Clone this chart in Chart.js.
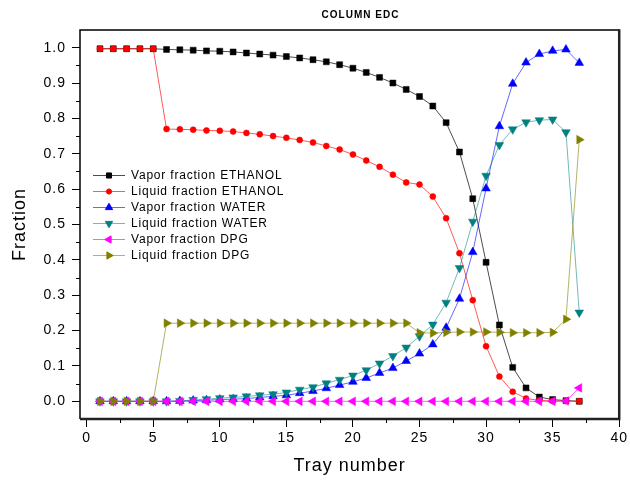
<!DOCTYPE html>
<html>
<head>
<meta charset="utf-8">
<title>Column EDC</title>
<script src="https://cdn.jsdelivr.net/npm/chart.js@4/dist/chart.umd.min.js"></script>
<style>
    html, body { margin: 0; padding: 0; background: #fff; }
    canvas { display: block; }
</style>
</head>
<body>
<canvas id="edcChart" width="630" height="484"></canvas>
<script>
// Tray numbers and tick labels
const trays = [1, 2, 3, 4, 5, 6, 7, 8, 9, 10, 11, 12, 13, 14, 15, 16, 17, 18, 19, 20,
    21, 22, 23, 24, 25, 26, 27, 28, 29, 30, 31, 32, 33, 34, 35, 36, 37];
const xTicks = [0, 5, 10, 15, 20, 25, 30, 35, 40];
const yTicks = [0.0, 0.1, 0.2, 0.3, 0.4, 0.5, 0.6, 0.7, 0.8, 0.9, 1.0];

// Fractions per tray
const vaporEthanol = [0.997, 0.997, 0.997, 0.997, 0.997, 0.995, 0.994, 0.993, 0.991, 0.990,
    0.988, 0.985, 0.982, 0.979, 0.975, 0.971, 0.966, 0.960, 0.952, 0.942,
    0.930, 0.916, 0.900, 0.882, 0.862, 0.835, 0.788, 0.705, 0.573, 0.393,
    0.216, 0.096, 0.038, 0.012, 0.005, 0.002, 0.000];
const liquidEthanol = [0.997, 0.997, 0.997, 0.997, 0.997, 0.770, 0.769, 0.768, 0.766, 0.765,
    0.763, 0.759, 0.755, 0.750, 0.745, 0.739, 0.732, 0.722, 0.712, 0.698,
    0.681, 0.663, 0.641, 0.619, 0.613, 0.579, 0.518, 0.419, 0.286, 0.156,
    0.070, 0.027, 0.008, 0.003, 0.001, 0.001, 0.000];
const vaporWater = [0.000, 0.000, 0.000, 0.000, 0.000, 0.000, 0.001, 0.002, 0.003, 0.005,
    0.006, 0.008, 0.011, 0.014, 0.017, 0.023, 0.029, 0.037, 0.046, 0.055,
    0.066, 0.080, 0.094, 0.114, 0.135, 0.161, 0.208, 0.290, 0.422, 0.602,
    0.778, 0.898, 0.958, 0.982, 0.991, 0.995, 0.957];
const liquidWater = [0.000, 0.000, 0.000, 0.000, 0.000, 0.000, 0.001, 0.004, 0.006, 0.009,
    0.011, 0.014, 0.017, 0.020, 0.025, 0.033, 0.040, 0.051, 0.061, 0.073,
    0.088, 0.107, 0.128, 0.152, 0.184, 0.217, 0.279, 0.377, 0.508, 0.638,
    0.725, 0.769, 0.789, 0.795, 0.797, 0.761, 0.251];
const vaporDPG = [0.000, 0.000, 0.000, 0.000, 0.000, 0.000, 0.000, 0.000, 0.000, 0.000,
    0.000, 0.000, 0.000, 0.000, 0.000, 0.000, 0.000, 0.000, 0.000, 0.000,
    0.000, 0.000, 0.000, 0.000, 0.000, 0.000, 0.000, 0.000, 0.000, 0.000,
    0.000, 0.000, 0.000, 0.000, 0.000, 0.001, 0.038];
const liquidDPG = [0.000, 0.000, 0.000, 0.000, 0.000, 0.221, 0.221, 0.221, 0.221, 0.221,
    0.221, 0.221, 0.221, 0.221, 0.221, 0.221, 0.221, 0.221, 0.221, 0.221,
    0.221, 0.221, 0.221, 0.221, 0.194, 0.193, 0.195, 0.196, 0.196, 0.196,
    0.195, 0.194, 0.194, 0.194, 0.195, 0.232, 0.740];

const FONT = '"Liberation Sans", Arial, sans-serif';

function points(values) {
    return trays.map((t, i) => ({ x: t, y: values[i] }));
}

// Origin style series: line + marker
function series(label, values, color, lineColor, style, rotation, radius, idx) {
    return {
        label: label,
        data: points(values),
        borderColor: lineColor,
        borderWidth: 1,
        backgroundColor: color,
        pointBackgroundColor: color,
        pointBorderColor: color,
        pointBorderWidth: 0.5,
        pointStyle: style,
        pointRotation: rotation,
        pointRadius: radius,
        tension: 0,
        order: 6 - idx  // later series on top, like Origin
    };
}

const datasets = [
    series("Vapor fraction ETHANOL", vaporEthanol, "#000000", "rgba(0,0,0,0.7)", "rect", 0, 4.2, 0),
    series("Liquid fraction ETHANOL", liquidEthanol, "#ff0000", "rgba(255,0,0,0.65)", "circle", 0, 3, 1),
    series("Vapor fraction WATER", vaporWater, "#0000ff", "rgba(0,0,255,0.6)", "triangle", 0, 5, 2),
    series("Liquid fraction WATER", liquidWater, "#008080", "rgba(0,128,128,0.55)", "triangle", 180, 5, 3),
    series("Vapor fraction DPG", vaporDPG, "#ff00ff", "rgba(255,0,255,0.65)", "triangle", 270, 5, 4),
    series("Liquid fraction DPG", liquidDPG, "#808000", "rgba(128,128,0,0.6)", "triangle", 90, 5, 5)
];

// Spaced-out text like the original export
const spacingPlugin = {
    id: "spacing",
    beforeDraw(chart) { chart.ctx.letterSpacing = "1px"; },
    afterDraw(chart) { chart.ctx.letterSpacing = "0px"; }
};

// title sits a bit right of the canvas centre, over the plot
const titleShift = {
    id: "titleShift",
    afterLayout(chart) {
        if (chart.titleBlock) chart.titleBlock.left += 100;
    }
};

// Frame box plus minor ticks
const framePlugin = {
    id: "frame",
    afterDraw(chart) {
        const { ctx, chartArea: a, scales } = chart;
        ctx.save();
        ctx.strokeStyle = "#000";
        ctx.lineWidth = 1.5;
        ctx.beginPath();
        ctx.moveTo(a.left, a.bottom);
        ctx.lineTo(a.left, a.top);
        ctx.lineTo(a.right, a.top);
        ctx.stroke();
        ctx.strokeStyle = "#222";
        ctx.lineWidth = 2.5;
        ctx.beginPath();
        ctx.moveTo(a.left, a.bottom);
        ctx.lineTo(a.right, a.bottom);
        ctx.lineTo(a.right, a.top - 0.75);
        ctx.stroke();

        ctx.lineWidth = 1;
        ctx.strokeStyle = "#000";
        ctx.beginPath();
        for (let v = 2.5; v < 40; v += 5) {
            const px = Math.round(scales.x.getPixelForValue(v)) + 0.5;
            ctx.moveTo(px, a.bottom);
            ctx.lineTo(px, a.bottom + 4);
        }
        for (let v = 0.05; v < 1.0; v += 0.1) {
            const py = Math.round(scales.y.getPixelForValue(v)) + 0.5;
            ctx.moveTo(a.left, py);
            ctx.lineTo(a.left - 4, py);
        }
        ctx.stroke();
        ctx.restore();
    }
};

function drawMarker(ctx, style, rotation, radius, x, y) {
    if (Chart.helpers && Chart.helpers.drawPoint) {
        Chart.helpers.drawPoint(ctx, { pointStyle: style, rotation: rotation, radius: radius, borderWidth: 0.5 }, x, y);
        return;
    }
    ctx.beginPath();
    ctx.arc(x, y, radius, 0, Math.PI * 2);
    ctx.fill();
}

// Legend drawn inside the plot, line with marker in the middle
const legendPlugin = {
    id: "insideLegend",
    afterDatasetsDraw(chart) {
        const { ctx, chartArea: a } = chart;
        const x0 = a.left + 13;
        const y0 = a.top + 145;
        ctx.save();
        ctx.font = "12px " + FONT;
        ctx.letterSpacing = "0.8px";
        ctx.textBaseline = "middle";
        ctx.textAlign = "left";
        chart.data.datasets.forEach((ds, i) => {
            const y = y0 + i * 16;
            ctx.strokeStyle = ds.borderColor;
            ctx.lineWidth = 1;
            ctx.beginPath();
            ctx.moveTo(x0, y + 0.5);
            ctx.lineTo(x0 + 32, y + 0.5);
            ctx.stroke();
            ctx.fillStyle = ds.pointBackgroundColor;
            ctx.strokeStyle = ds.pointBorderColor;
            const r = ds.pointStyle === "rect" ? 3.6 : (ds.pointStyle === "circle" ? 2.6 : 4.2);
            drawMarker(ctx, ds.pointStyle, ds.pointRotation, r, x0 + 16, y + 0.5);
            ctx.fillStyle = "#000";
            ctx.fillText(ds.label, x0 + 38, y + 1);
        });
        ctx.restore();
    }
};

const ctx = document.getElementById("edcChart").getContext("2d");
new Chart(ctx, {
    type: "line",
    data: { datasets: datasets },
    plugins: [spacingPlugin, titleShift, legendPlugin, framePlugin],
    options: {
        responsive: false,
        animation: false,
        devicePixelRatio: 1,
        layout: { padding: { left: 0, right: 9, top: 0, bottom: 0 } },
        plugins: {
            legend: { display: false },
            tooltip: { enabled: false },
            title: {
                display: true,
                text: "COLUMN EDC",
                color: "#000",
                font: { family: FONT, size: 10, weight: "bold" },
                padding: { top: 9, bottom: 9 }
            }
        },
        scales: {
            x: {
                type: "linear",
                min: -0.5,
                max: 40,
                afterBuildTicks: s => { s.ticks = xTicks.map(v => ({ value: v })); },
                afterFit: s => { s.height = 65; },
                border: { display: false },
                grid: { drawOnChartArea: false, drawTicks: true, tickLength: 8, color: "#000", lineWidth: 1 },
                ticks: {
                    color: "#000",
                    font: { family: FONT, size: 14 },
                    padding: 3,
                    maxRotation: 0,
                    callback: v => String(v)
                },
                title: {
                    display: true,
                    text: "Tray number",
                    color: "#000",
                    font: { family: FONT, size: 18 },
                    padding: { top: 0, bottom: 7 }
                }
            },
            y: {
                type: "linear",
                min: -0.05,
                max: 1.05,
                afterBuildTicks: s => { s.ticks = yTicks.map(v => ({ value: v })); },
                afterFit: s => { s.width = 80; },
                border: { display: false },
                grid: { drawOnChartArea: false, drawTicks: true, tickLength: 8, color: "#000", lineWidth: 1 },
                ticks: {
                    color: "#000",
                    font: { family: FONT, size: 14 },
                    padding: 6,
                    callback: v => v.toFixed(1)
                },
                title: {
                    display: true,
                    text: "Fraction",
                    color: "#000",
                    font: { family: FONT, size: 18 },
                    padding: { top: 9, bottom: 0 }
                }
            }
        }
    }
});
</script>
</body>
</html>
